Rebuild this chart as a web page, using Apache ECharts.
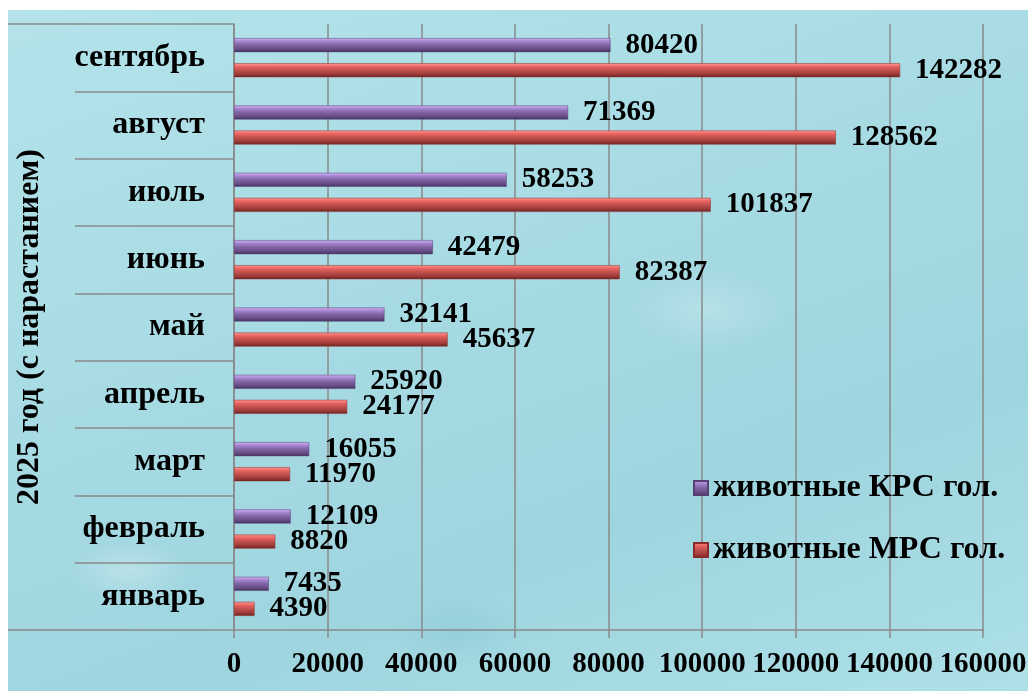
<!DOCTYPE html>
<html>
<head>
<meta charset="utf-8">
<script src="https://cdn.jsdelivr.net/npm/echarts@6/dist/echarts.min.js"></script>
<style>
  body { margin: 0; background: #fff; }
  #wrap {
    position: relative;
    width: 1028px;
    height: 691px;
  }
  #bg {
    position: absolute;
    left: 8px;
    top: 10px;
    width: 1020px;
    height: 681px;
    background:
      radial-gradient(ellipse 60px 30px at 120px 560px, rgba(255,255,255,0.25), transparent),
      radial-gradient(ellipse 80px 40px at 700px 300px, rgba(255,255,255,0.2), transparent),
      radial-gradient(ellipse 70px 35px at 450px 620px, rgba(80,160,180,0.15), transparent),
      linear-gradient(160deg, #b4e3ea 0%, #a6dae3 45%, #9fd5df 70%, #ade0e7 100%);
  }
  #chart {
    position: absolute;
    left: 0;
    top: 0;
    width: 1028px;
    height: 691px;
  }
</style>
</head>
<body>
<div id="wrap">
  <div id="bg"></div>
  <div id="chart"></div>
</div>
<script>
const months = ['январь', 'февраль', 'март', 'апрель', 'май', 'июнь', 'июль', 'август', 'сентябрь']
const krs = [7435, 12109, 16055, 25920, 32141, 42479, 58253, 71369, 80420]
const mrs = [4390, 8820, 11970, 24177, 45637, 82387, 101837, 128562, 142282]
const xTicks = { min: 0, max: 160000, interval: 20000 }

const font = '"Liberation Serif", "Times New Roman", serif'
const gridColor = '#8a8a8a'

const myChart = echarts.init(document.getElementById('chart'), null, { renderer: 'canvas' })

function barGradient(stops) {
  return new echarts.graphic.LinearGradient(0, 0, 0, 1, stops.map((c, i) => ({ offset: i / (stops.length - 1), color: c })))
}

const labelStyle = {
  show: true,
  position: 'right',
  distance: 15,
  color: '#000',
  fontFamily: font,
  fontWeight: 'bold',
  fontSize: 29
}

const option = {
  animation: false,
  backgroundColor: 'transparent',
  textStyle: { fontFamily: font },
  grid: { left: 234, right: 45, top: 24, bottom: 61, containLabel: false, outerBoundsMode: 'none' },
  legend: {
    orient: 'vertical',
    left: 688,
    top: 467,
    itemWidth: 14,
    itemHeight: 14,
    itemGap: 30,
    icon: 'rect',
    data: ['животные КРС гол.', 'животные МРС гол.'],
    textStyle: { color: '#000', fontFamily: font, fontWeight: 'bold', fontSize: 32, lineHeight: 32 }
  },
  xAxis: {
    type: 'value',
    min: xTicks.min,
    max: xTicks.max,
    interval: xTicks.interval,
    axisLine: { show: true, lineStyle: { color: gridColor, width: 1.5 } },
    axisTick: { show: true, length: 8, lineStyle: { color: gridColor, width: 1.5 } },
    splitLine: { show: true, lineStyle: { color: gridColor, width: 1.5 } },
    axisLabel: {
      color: '#000', fontFamily: font, fontWeight: 'bold', fontSize: 29, margin: 20,
      formatter: (v) => String(v)
    }
  },
  yAxis: {
    type: 'category',
    data: months,
    name: '2025 год (с нарастанием)',
    nameLocation: 'middle',
    nameRotate: 90,
    nameGap: 188,
    nameTextStyle: { color: '#000', fontFamily: font, fontWeight: 'bold', fontSize: 32 },
    axisLine: { show: true, lineStyle: { color: gridColor, width: 1.5 } },
    axisTick: { show: true, length: 159, interval: 0, lineStyle: { color: gridColor, width: 1.5 } },
    axisLabel: { color: '#000', fontFamily: font, fontWeight: 'bold', fontSize: 32, margin: 29 }
  },
  graphic: [
    { type: 'line', shape: { x1: 8, y1: 24, x2: 76, y2: 24 }, style: { stroke: gridColor, lineWidth: 1.5 } },
    { type: 'line', shape: { x1: 8, y1: 630, x2: 76, y2: 630 }, style: { stroke: gridColor, lineWidth: 1.5 } }
  ],
  series: [
    {
      name: 'животные КРС гол.',
      type: 'bar',
      data: krs,
      barWidth: 14,
      barGap: '79%',
      itemStyle: {
        color: barGradient(['#d2b3f7', '#a282cc', '#8064a2', '#6a4f8a', '#44335e']),
        borderColor: '#553f75',
        borderWidth: 0.5
      },
      label: labelStyle
    },
    {
      name: 'животные МРС гол.',
      type: 'bar',
      data: mrs,
      barWidth: 14,
      barGap: '79%',
      itemStyle: {
        color: barGradient(['#ff9a96', '#e8625e', '#c0504d', '#a23e3b', '#6e2322']),
        borderColor: '#8a2d2a',
        borderWidth: 0.5
      },
      label: labelStyle
    }
  ]
}

myChart.setOption(option)

window.onresize = () => {
  myChart.resize()
}
</script>
</body>
</html>
